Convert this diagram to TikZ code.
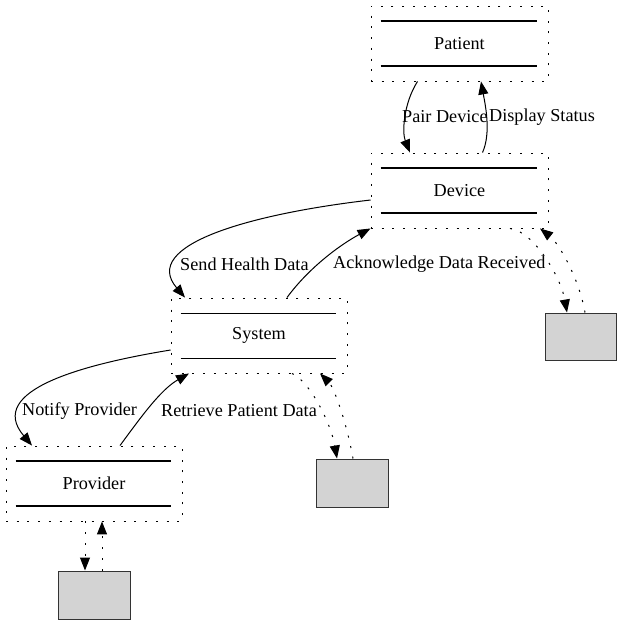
\documentclass[tikz,border=0pt]{standalone}
\usepackage{fontspec}
\setmainfont{Liberation Serif}
\usetikzlibrary{arrows.meta}
\begin{document}
\begin{tikzpicture}[x=1pt,y=-1pt,
  every node/.style={font=\fontsize{18.2}{20}\selectfont},
  actor/.style={draw, dash pattern=on 2pt off 8.7pt, line width=0.9pt, minimum width=177pt, minimum height=75pt, inner sep=0pt},
  store/.style={draw=black!80, fill={rgb,255:red,211;green,211;blue,211}, line width=1pt, minimum width=71pt, minimum height=47pt, inner sep=0pt},
  bar/.style={line width=1.6pt},
  thinbar/.style={line width=0.9pt},
  flow/.style={line width=1pt, -{Triangle[length=13pt,width=10pt]}},
  dflow/.style={flow, line width=1pt, dash pattern=on 2pt off 8.7pt},
  lbl/.style={anchor=west, inner sep=0pt}
]
\useasboundingbox (0,0) rectangle (622,625);

\node[actor] (patient) at (459.5,43.5) {Patient};
\node[actor] (device) at (459.5,190.5) {Device};
\node[actor, minimum width=176pt] (system) at (259,335.5) {System};
\node[actor, minimum width=176pt] (provider) at (94,483.5) {Provider};

\node[store] (g1) at (580.5,336.5) {};
\node[store, minimum width=72pt, minimum height=48pt] (g2) at (352,483) {};
\node[store, minimum width=72pt, minimum height=48pt] (g3) at (94,595) {};

% inner bars
\foreach \n/\s in {patient/bar, device/bar, provider/bar, system/thinbar}{
  \draw[\s] ([xshift=10pt,yshift=-15.5pt]\n.north west) -- ([xshift=-11pt,yshift=-15.5pt]\n.north east);
  \draw[\s] ([xshift=10pt,yshift=15.5pt]\n.south west) -- ([xshift=-11pt,yshift=15.5pt]\n.south east);
}

% Patient <-> Device
\draw[flow] ([xshift=-42pt]patient.south) .. controls +(-14,22) and +(-8,-20) .. ([xshift=-49.5pt]device.north);
\draw[flow] ([xshift=23pt]device.north) .. controls +(9,-20) and +(4,22) .. ([xshift=21.5pt]patient.south);
\node[lbl] (l1) at (402,117) {Pair Device};
\node[lbl] (l2) at (489,117) {Display Status};

% Device <-> System
\draw[flow] ([yshift=-9.5pt]device.west) .. controls (250,214) and (140,245) .. ([xshift=-74pt]system.north);
\draw[flow] ([xshift=28pt]system.north) .. controls +(22,-30) and +(-30,16) .. (device.south west);
\node[lbl] (l3) at (180,264) {Send Health Data};
\node[lbl] (l4) at (333,264) {Acknowledge Data Received};

% Device <-> store 1
\draw[dflow] ([xshift=50.5pt]device.south) .. controls +(24,3) and +(-6,-35) .. ([xshift=-13.5pt]g1.north);
\draw[dflow] ([xshift=4.5pt]g1.north) .. controls +(-6,-35) and +(18,14) .. ([xshift=80.5pt]device.south);

% System <-> Provider
\draw[flow] ([yshift=-14.5pt]system.west) .. controls (85,364) and (-15,390) .. ([xshift=-62pt]provider.north);
\draw[flow] ([xshift=26pt]provider.north) .. controls +(22,-30) and +(-28,16) .. ([xshift=-70pt]system.south);
\node[lbl] (l5) at (22,411) {Notify Provider};
\node[lbl] (l6) at (161,411) {Retrieve Patient Data};

% System <-> store 2
\draw[dflow] ([xshift=33pt]system.south) .. controls +(18,8) and +(-6,-35) .. ([xshift=-15pt]g2.north);
\draw[dflow] ([xshift=1pt]g2.north) .. controls +(-6,-35) and +(14,14) .. ([xshift=61pt]system.south);

% Provider <-> store 3
\draw[dflow] ([xshift=-9pt]provider.south) -- ([xshift=-9pt]g3.north);
\draw[dflow] ([xshift=8pt]g3.north) -- ([xshift=8pt]provider.south);
\end{tikzpicture}
\end{document}
